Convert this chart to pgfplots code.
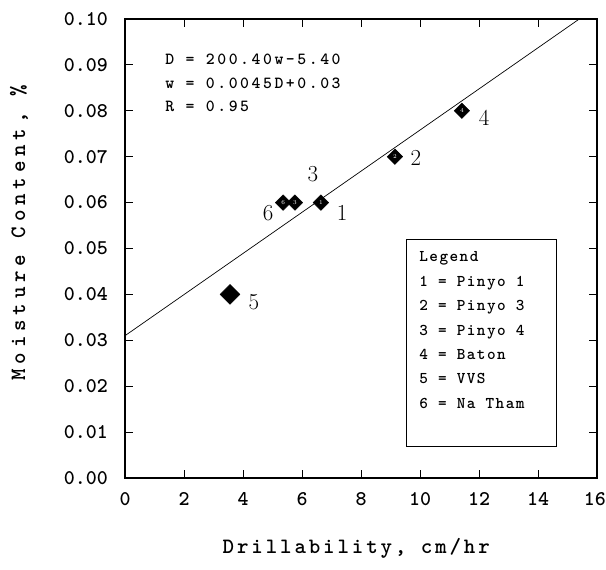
\documentclass[border=0pt]{standalone}
\usepackage{fontspec}
\usepackage{pgfplots}
\pgfplotsset{compat=1.18}
\newfontfamily\tw{lmmonolt10-bold}[Extension=.otf]
\newfontfamily\twl{lmmonolt10-bold}[Extension=.otf, LetterSpace=9]
\newfontfamily\twe{lmmonolt10-bold}[Extension=.otf, LetterSpace=15]
\newfontfamily\twx{lmmonolt10-bold}[Extension=.otf, LetterSpace=13]
\newfontfamily\twy{lmmonolt10-bold}[Extension=.otf, LetterSpace=22]
\begin{document}
\begin{tikzpicture}
\useasboundingbox (-125bp,-92bp) rectangle (481bp,478bp);
\begin{axis}[
  scale only axis,
  width=472bp, height=459bp,
  xmin=0, xmax=16, ymin=0, ymax=0.10,
  xtick={0,2,...,14},
  extra x ticks={16},
  extra x tick style={xticklabel style={anchor=north east, xshift=9bp}},
  ytick={0,0.01,...,0.1},
  yticklabels={0.00,0.01,0.02,0.03,0.04,0.05,0.06,0.07,0.08,0.09,0.10},
  axis line style={line width=1.3pt},
  tick style={line width=0.9pt, black},
  major tick length=8bp,
  tick align=inside,
  /pgf/number format/assume math mode=true,
  xticklabel style={font=\tw\fontsize{21}{21}\selectfont, anchor=north, inner sep=0pt, yshift=-14bp},
  yticklabel style={font=\tw\fontsize{21}{21}\selectfont, anchor=east, inner sep=0pt, xshift=-17bp},
  xlabel={Drillability, cm/hr},
  ylabel={Moisture Content, \%},
  xlabel style={font=\twx\fontsize{22}{22}\selectfont, at={(axis description cs:0.49,-0.1525)}, anchor=center},
  ylabel style={font=\twy\fontsize{22}{22}\selectfont, at={(axis description cs:-0.2246,0.535)}, anchor=center},
  clip=false,
]
% regression line
\addplot[black, line width=0.7pt] coordinates {(0,0.031) (15.4,0.100)};
% data points (with white identifiers inside)
\addplot[only marks, mark=square*, mark size=5.5bp, mark options={rotate=45, fill=black, draw=black},
  point meta=explicit symbolic, nodes near coords,
  every node near coord/.style={anchor=center, text=white, font=\fontsize{6}{6}\selectfont, inner sep=0pt}]
  table[meta=lab] {
x y lab
6.64 0.060 1
9.15 0.070 2
5.76 0.060 3
11.42 0.080 4
5.36 0.060 6
};
\addplot[only marks, mark=square*, mark size=7bp, mark options={rotate=45, fill=black, draw=black}]
  coordinates {(3.56,0.040)};
% point labels
\node[font=\fontsize{23}{23}\selectfont] at (axis cs:7.36,0.0577) {1};
\node[font=\fontsize{23}{23}\selectfont] at (axis cs:9.86,0.0697) {2};
\node[font=\fontsize{23}{23}\selectfont] at (axis cs:6.37,0.0662) {3};
\node[font=\fontsize{23}{23}\selectfont] at (axis cs:12.17,0.0784) {4};
\node[font=\fontsize{23}{23}\selectfont] at (axis cs:4.37,0.0383) {5};
\node[font=\fontsize{23}{23}\selectfont] at (axis cs:4.85,0.0577) {6};
% equation
\node[anchor=north west, align=left, inner sep=0pt, font=\twe\fontsize{17}{24}\selectfont] at (axis cs:1.36,0.0925)
  {D = 200.40w-5.40\\w = 0.0045D+0.03\\R = 0.95};
% legend box
\draw[line width=0.7pt] (axis cs:9.53,0.0068) rectangle (axis cs:14.61,0.0519);
\node[anchor=north west, align=left, inner sep=0pt, font=\twl\fontsize{16.5}{24.5}\selectfont] at (axis cs:9.97,0.0493)
  {Legend\\1 = Pinyo 1\\2 = Pinyo 3\\3 = Pinyo 4\\4 = Baton\\5 = VVS\\6 = Na Tham};
\end{axis}
\end{tikzpicture}
\end{document}
